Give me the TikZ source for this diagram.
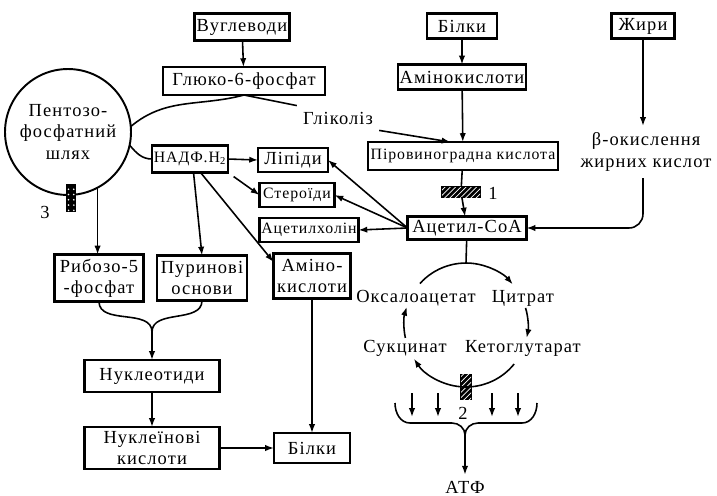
\documentclass[tikz,border=0pt]{standalone}
\usepackage{fontspec}
\setmainfont[LetterSpace=6]{Liberation Serif}
\usetikzlibrary{arrows.meta,patterns}

\begin{document}
\begin{tikzpicture}[x=0.02cm, y=-0.02cm, font=\fontsize{10.5}{12}\selectfont,
  box/.style={draw, line width=1.4pt, inner sep=1pt, outer sep=0pt, align=center},
  sbox/.style={box, font=\fontsize{9}{10.5}\selectfont},
  flow/.style={line width=0.9pt, -{Latex[length=5pt,width=3.6pt]}},
  link/.style={line width=0.9pt},
  blk/.style={draw, line width=0.6pt, fill=black, inner sep=0pt, outer sep=0pt,
    postaction={pattern=#1, pattern color=white}},
  blk/.default={north east lines}]
  \useasboundingbox (0,0) rectangle (717,495);
  \node[box, minimum width=1.9cm, minimum height=0.54cm] (carb) at (242,27) {Вуглеводи};
  \node[box, minimum width=3.24cm, minimum height=0.56cm] (gsf) at (244,81) {Глюко-6-фосфат};
  \node[draw, circle, line width=1.1pt, minimum size=2.52cm, inner sep=0pt, outer sep=0pt, align=center] (ppp) at (68,132) {Пентозо-\\фосфатний\\шлях};
  \node[sbox, minimum width=1.46cm, minimum height=0.54cm] (nadph) at (190,159) {НАДФ.Н\textsubscript{2}};
  \node[box, minimum width=1.4cm, minimum height=0.48cm] (lip) at (293,160) {Ліпіди};
  \node[sbox, minimum width=1.5cm, minimum height=0.48cm] (ster) at (297,195) {Стероїди};
  \node[sbox, minimum width=1.96cm, minimum height=0.48cm] (ach) at (309,230) {Ацетилхолін};
  \node[box, minimum width=1.4cm, minimum height=0.5cm] (prot) at (462,26) {Білки};
  \node[box, minimum width=2.42cm, minimum height=0.5cm] (amino) at (462,77) {Амінокислоти};
  \node[box, minimum width=1.26cm, minimum height=0.5cm] (fat) at (643,26) {Жири};
  \node[sbox, minimum width=3.8cm, minimum height=0.56cm] (pyr) at (463,156) {Піровиноградна кислота};
  \node[box, minimum width=2.38cm, minimum height=0.46cm] (acoa) at (467,228) {Ацетил-СоА};
  \node[box, minimum width=1.78cm, minimum height=0.94cm] (rib) at (99,278) {Рибозо-5\\-фосфат};
  \node[box, minimum width=1.8cm, minimum height=0.9cm] (pur) at (202,278) {Пуринові\\основи};
  \node[box, minimum width=1.54cm, minimum height=0.9cm] (amk) at (312,276) {Аміно-\\кислоти};
  \node[box, minimum width=2.7cm, minimum height=0.64cm] (nucl) at (152,376) {Нуклеотиди};
  \node[box, minimum width=2.7cm, minimum height=0.84cm] (nacid) at (152,448) {Нуклеїнові\\кислоти};
  \node[box, minimum width=1.52cm, minimum height=0.6cm] (prot2) at (312,448) {Білки};
  \node (glyc) at (338,118) {Гліколіз};
  \node[align=center, font=\fontsize{10.5}{13}\selectfont] (beta) at (646,152) {β-окислення\\жирних кислот};
  \node[circle, minimum size=2.48cm, inner sep=0pt, outer sep=0pt] (krebs) at (466,325) {};
  \node (oxa) at (416,298) {Оксалоацетат};
  \node (cit) at (523,298) {Цитрат};
  \node (succ) at (405,348) {Сукцинат};
  \node (kg) at (523,348) {Кетоглутарат};
  \node[blk, minimum width=0.76cm, minimum height=0.2cm] (b1) at (461,192) {};
  \node (n1) at (493,193) {1};
  \node[blk, minimum width=0.2cm, minimum height=0.5cm] (b2) at (krebs.south) {};
  \node (n2) at (463,413) {2};
  \node[blk=dots, minimum width=0.16cm, minimum height=0.52cm] (b3) at (71,198) {};
  \node (n3) at (45,212) {3};
  \node (atp) at (465,487) {АТФ};
  \draw[flow] (carb) -- (gsf);
  \draw[link] (gsf.south) to[out=195,in=40] (ppp.5);
  \draw[link] (gsf.south) -- (glyc.north west);
  \draw[flow] (glyc.south east) -- ([xshift=-0.25cm]pyr.north);
  \draw[link] (ppp.-12) to[out=-50,in=180] (nadph.west);
  \draw[flow] (nadph.east) -- (lip.west);
  \draw[flow, shorten <=4pt] (nadph.south east) -- (ster.west);
  \draw[flow] ([xshift=2pt]nadph.south) -- (pur.north);
  \draw[flow] ([xshift=6pt]nadph.south) -- (amk.160);
  \draw[flow] (ppp.-62) -- (ppp.-62 |- rib.north);
  \draw[flow] (prot) -- (amino);
  \draw[flow] (amino) -- (pyr);
  \draw[flow] (fat.south) -- (fat.south |- beta.north);
  \draw[flow, rounded corners=8pt] (fat.south |- beta.south) |- (acoa.east);
  \draw[link] (pyr) -- (b1);
  \draw[flow] (b1) -- (acoa);
  \draw[flow] (acoa.west) -- (lip.east);
  \draw[flow] (acoa.west) -- (ster.east);
  \draw[flow] (acoa.west) -- (ach.east);
  \draw[link] (acoa) -- (krebs.north);
  \draw[flow] (krebs.138) arc[start angle=138, end angle=41, radius=1.24cm];
  \draw[flow] (krebs.16) arc[start angle=16, end angle=-12, radius=1.24cm];
  \draw[flow] (krebs.-39) arc[start angle=-39, end angle=-147, radius=1.24cm];
  \draw[flow] (krebs.192) arc[start angle=192, end angle=163, radius=1.24cm];
  \coordinate (fl) at (395,403);
  \coordinate (fr) at (537,403);
  \coordinate (fk) at (465,435);
  \draw[link] (fl) to[out=-90,in=180] ++(15,20) -- (452,423) to[out=0,in=90] (fk);
  \draw[link] (fr) to[out=-90,in=0] ++(-15,20) -- (478,423) to[out=180,in=90] (fk);
  \draw[flow] (fk) -- (atp);
  \foreach \x [count=\i] in {412,438,492,518} {
    \coordinate (e\i) at (\x,393);
    \draw[flow] (e\i) -- ++(0,24);
  }
  \coordinate (nj) at (152,332);
  \draw[link] (rib.south) to[out=-90,in=90] (nj);
  \draw[link] (pur.south) to[out=-90,in=90] (nj);
  \draw[flow] (nj) -- (nucl.north);
  \draw[flow] (nucl) -- (nacid);
  \draw[flow] (nacid) -- (prot2);
  \draw[flow] (amk) -- (prot2);
\end{tikzpicture}
\end{document}
